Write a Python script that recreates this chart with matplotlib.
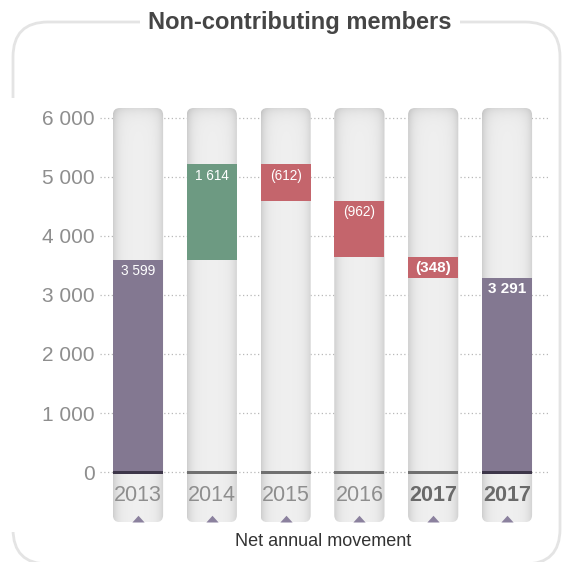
import numpy as np
import matplotlib
matplotlib.use("Agg")
import matplotlib.pyplot as plt
from matplotlib.patches import FancyBboxPatch, Rectangle

plt.rcParams['font.family'] = ['Liberation Sans', 'DejaVu Sans']

# data
years = ['2013', '2014', '2015', '2016', '2017', '2017']
start_value = 3599
movements = [1614, -612, -962, -348]
end_value = start_value + sum(movements)
yticks = [0, 1000, 2000, 3000, 4000, 5000, 6000]

c_total = '#837891'
c_up = '#6d9a82'
c_down = '#c4656c'

W, H = 566, 562
fig = plt.figure(figsize=(W / 100, H / 100), dpi=100)

# outer rounded frame
frame = FancyBboxPatch((13 / W, -2 / H), 547 / W, (H - 22 + 2) / H,
                       boxstyle=f"round,pad=0,rounding_size={35 / W}",
                       transform=fig.transFigure, fill=False,
                       ec='#e4e4e4', lw=2, mutation_aspect=W / H)
fig.add_artist(frame)
fig.add_artist(Rectangle((0, 30 / H), 40 / W, (H - 98 - 30) / H,
                         transform=fig.transFigure, fc='white', ec='none'))

fig.text(300 / W, 1 - 22 / H, 'Non-contributing members', ha='center', va='center',
         fontsize=17, fontweight='bold', color='#454545',
         bbox=dict(fc='white', ec='none', pad=6))

ax = fig.add_axes([100 / W, 1 - 525 / H, 448 / W, (525 - 108) / H])
ax.set_facecolor('none')

px_per_unit = 417 / (6169 + 898)
ylo, yhi = -898, 6169
xlo, xhi = -0.515, 5.556
x = np.arange(len(years))
bw = 0.68

# gridlines
for t in yticks:
    ax.axhline(t, color='#b8b8b8', lw=0.9, ls=(0, (1, 2)), zorder=1)

# gray tracks with shading
track_top, track_bot = 6169, -850
nx, ny = 60, 300
u = np.linspace(0, 1, nx)
d = np.minimum(u, 1 - u) * 50
hprof = 0.94 - 0.13 * np.exp(-d / 5)
dy = np.linspace(0, (track_top - track_bot) * px_per_unit, ny)
vprof = 0.09 * np.exp(-dy / 6)
shade = hprof[None, :] - vprof[:, None]
img = np.dstack([shade] * 3)
r_x = 7 / 73.8
for xi in x:
    patch = FancyBboxPatch((xi - bw / 2, track_bot), bw, track_top - track_bot,
                           boxstyle=f"round,pad=0,rounding_size={r_x}",
                           mutation_aspect=(7 / px_per_unit) / r_x,
                           fc='none', ec='none', zorder=2)
    ax.add_patch(patch)
    im = ax.imshow(img, extent=[xi - bw / 2, xi + bw / 2, track_bot, track_top],
                   aspect='auto', zorder=2, interpolation='bilinear')
    im.set_clip_path(patch)

# waterfall bars
bottoms = [0]
heights = [start_value]
colors = [c_total]
level = start_value
for m in movements:
    if m >= 0:
        bottoms.append(level)
        heights.append(m)
        colors.append(c_up)
    else:
        bottoms.append(level + m)
        heights.append(-m)
        colors.append(c_down)
    level += m
bottoms.append(0)
heights.append(end_value)
colors.append(c_total)
ax.bar(x, heights, bottom=bottoms, width=bw, color=colors, zorder=3)

# baseline strip
base_cols = ['#3d3649' if c == c_total else '#707070' for c in colors]
ax.bar(x, 45, bottom=-35, width=bw, color=base_cols, zorder=4)

# value labels
labels = [f'{start_value:,}'.replace(',', ' ')]
labels += [f'{m:,}'.replace(',', ' ') if m >= 0 else f'({-m:,})'.replace(',', ' ') for m in movements]
labels += [f'{end_value:,}'.replace(',', ' ')]
for i, (b, h, lab) in enumerate(zip(bottoms, heights, labels)):
    top = b + h
    bold = years[i] == '2017'
    ax.annotate(lab, (x[i], top), xytext=(0, -8), textcoords='offset points',
                ha='center', va='center', color='white',
                fontsize=11 if bold else 9.8,
                fontweight='bold' if bold else 'normal', zorder=5)

# year labels and markers
for i, yr in enumerate(years):
    bold = yr == '2017'
    ax.text(x[i], -400, yr, ha='center', va='center', fontsize=15.5,
            color='#6a6a6a' if bold else '#8e8e8e',
            fontweight='bold' if bold else 'normal', zorder=5)
tri = [(-1, 0), (1, 0), (0, 1.1), (-1, 0)]
ax.scatter(x, [track_bot] * len(x), marker=tri, s=94, color='#8b819e', zorder=5,
           clip_on=False, linewidths=0)

ax.set_xlim(xlo, xhi)
ax.set_ylim(ylo, yhi)
ax.set_yticks(yticks)
ax.set_yticklabels([f'{t:,}'.replace(',', ' ') for t in yticks],
                   fontsize=15, color='#8e8e8e')
ax.tick_params(axis='y', length=0, pad=4)
ax.set_xticks([])
for s in ax.spines.values():
    s.set_visible(False)

fig.text(323 / W, 1 - 542 / H, 'Net annual movement', ha='center', va='center',
         fontsize=13, color='#333333')

fig.savefig('out.png', dpi=100)
